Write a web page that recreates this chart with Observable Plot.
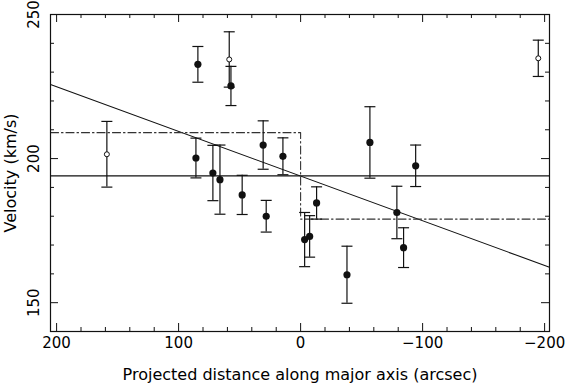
<!DOCTYPE html>
<html><head><meta charset="utf-8">
<script src="https://cdn.jsdelivr.net/npm/d3@7"></script>
<script src="https://cdn.jsdelivr.net/npm/@observablehq/plot@0.6"></script>
<style>body{margin:0;background:#fff}</style>
</head><body><div id="chart"></div>
<script>
// Filled points (projected distance, velocity, error)
const filledX = [84.2, 57.1, 85.8, 71.9, 66.1, 47.9, 30.7, 14.5, 28.2, -56.8, -13.1, -3.3, -7.4, -38.0, -78.9, -84.4, -94.3];
const filledY = [232.7, 225.2, 200.2, 195.0, 192.7, 187.4, 204.7, 200.8, 180.0, 205.6, 184.6, 171.9, 173.0, 159.7, 181.3, 169.1, 197.5];
const filledErr = [6.2, 6.8, 6.9, 9.6, 12.0, 6.8, 8.4, 6.4, 5.5, 12.4, 5.6, 9.4, 7.2, 9.9, 9.1, 6.9, 7.2];
// Open points
const openX = [158.8, 58.5, -194.8];
const openY = [201.5, 234.4, 234.8];
const openErr = [11.4, 9.6, 6.3];
// Systemic velocity (solid horizontal line)
const systemic = [194];
// Fitted gradient line (end points)
const fitX = [205, -204];
const fitY = [225.7, 162.3];
// Dash-dot step model
const stepX = [205, 0, 0, -204];
const stepY = [209, 209, 179, 179];
// Ticks
const xMajor = [200, 100, 0, -100, -200];
const xMinor = [180, 160, 140, 120, 80, 60, 40, 20, -20, -40, -60, -80, -120, -140, -160, -180];
const yMajor = [150, 200, 250];
const yMinor = [160, 170, 180, 190, 210, 220, 230, 240];
const xTitle = "Projected distance along major axis (arcsec)";
const yTitle = "Velocity (km/s)";

const W = 565, H = 388, mL = 50, mR = 16, mT = 14, mB = 57;
const plotW = W - mL - mR, plotH = H - mT - mB;
const filled = filledX.map((x, i) => ({x, y: filledY[i], e: filledErr[i]}));
const open = openX.map((x, i) => ({x, y: openY[i], e: openErr[i]}));
const fit = fitX.map((x, i) => ({x, y: fitY[i]}));
const step = stepX.map((x, i) => ({x, y: stepY[i]}));
const fmt = d3.format("d");
const capSymbol = {draw(ctx, size) { const h = Math.sqrt(size / Math.PI); ctx.moveTo(-h, 0); ctx.lineTo(h, 0); }};
const ink = "#111";
const errMarks = (data) => [
  Plot.ruleX(data, {x: "x", y1: d => d.y - d.e, y2: d => d.y + d.e, stroke: ink, strokeWidth: 1.2}),
  Plot.dot(data, {x: "x", y: d => d.y - d.e, symbol: capSymbol, r: 5.5, stroke: ink, strokeWidth: 1.2, fill: "none"}),
  Plot.dot(data, {x: "x", y: d => d.y + d.e, symbol: capSymbol, r: 5.5, stroke: ink, strokeWidth: 1.2, fill: "none"})
];

const chart = Plot.plot({
  width: W, height: H,
  marginLeft: mL, marginRight: mR, marginTop: mT, marginBottom: mB,
  style: {fontFamily: "DejaVu Sans", fontSize: "16px", color: "#000", background: "#fff"},
  x: {domain: [205, -204], axis: null},
  y: {domain: [140, 250], axis: null},
  marks: [
    Plot.ruleY(systemic, {stroke: ink, strokeWidth: 1.1}),
    Plot.line(fit, {x: "x", y: "y", stroke: ink, strokeWidth: 1.1}),
    Plot.line(step, {x: "x", y: "y", stroke: "#333", strokeWidth: 1.1, strokeDasharray: "8,3,1.5,3"}),
    ...errMarks(open),
    ...errMarks(filled),
    Plot.dot(open, {x: "x", y: "y", r: 2.5, stroke: ink, strokeWidth: 1, fill: "#fff"}),
    Plot.dot(filled, {x: "x", y: "y", r: 3.6, fill: ink, stroke: "none"}),
    // ticks (inward, all four sides)
    Plot.ruleX(xMajor, {x: d => d, insetTop: plotH - 8, stroke: ink}),
    Plot.ruleX(xMinor, {x: d => d, insetTop: plotH - 4, stroke: ink}),
    Plot.ruleX(xMajor, {x: d => d, insetBottom: plotH - 8, stroke: ink}),
    Plot.ruleX(xMinor, {x: d => d, insetBottom: plotH - 4, stroke: ink}),
    Plot.ruleY(yMajor, {y: d => d, insetRight: plotW - 8, stroke: ink}),
    Plot.ruleY(yMinor, {y: d => d, insetRight: plotW - 4, stroke: ink}),
    Plot.ruleY(yMajor, {y: d => d, insetLeft: plotW - 8, stroke: ink}),
    Plot.ruleY(yMinor, {y: d => d, insetLeft: plotW - 4, stroke: ink}),
    Plot.frame({stroke: ink, strokeWidth: 1.2}),
    // tick labels
    Plot.text(xMajor, {x: d => d, text: d => fmt(d), frameAnchor: "bottom", textAnchor: "middle", dy: 16, fontSize: 15, fill: "#000"}),
    Plot.text(yMajor, {y: d => d, text: d => fmt(d), frameAnchor: "left", textAnchor: "middle", dx: -16, rotate: -90, fontSize: 15, fill: "#000"}),
    // titles
    Plot.text([xTitle], {text: d => d, frameAnchor: "bottom", textAnchor: "middle", dy: 48, fill: "#000"}),
    Plot.text([yTitle], {text: d => d, frameAnchor: "left", textAnchor: "middle", dx: -40, rotate: -90, fill: "#000"})
  ]
});
document.getElementById("chart").append(chart);
</script>
</body></html>
